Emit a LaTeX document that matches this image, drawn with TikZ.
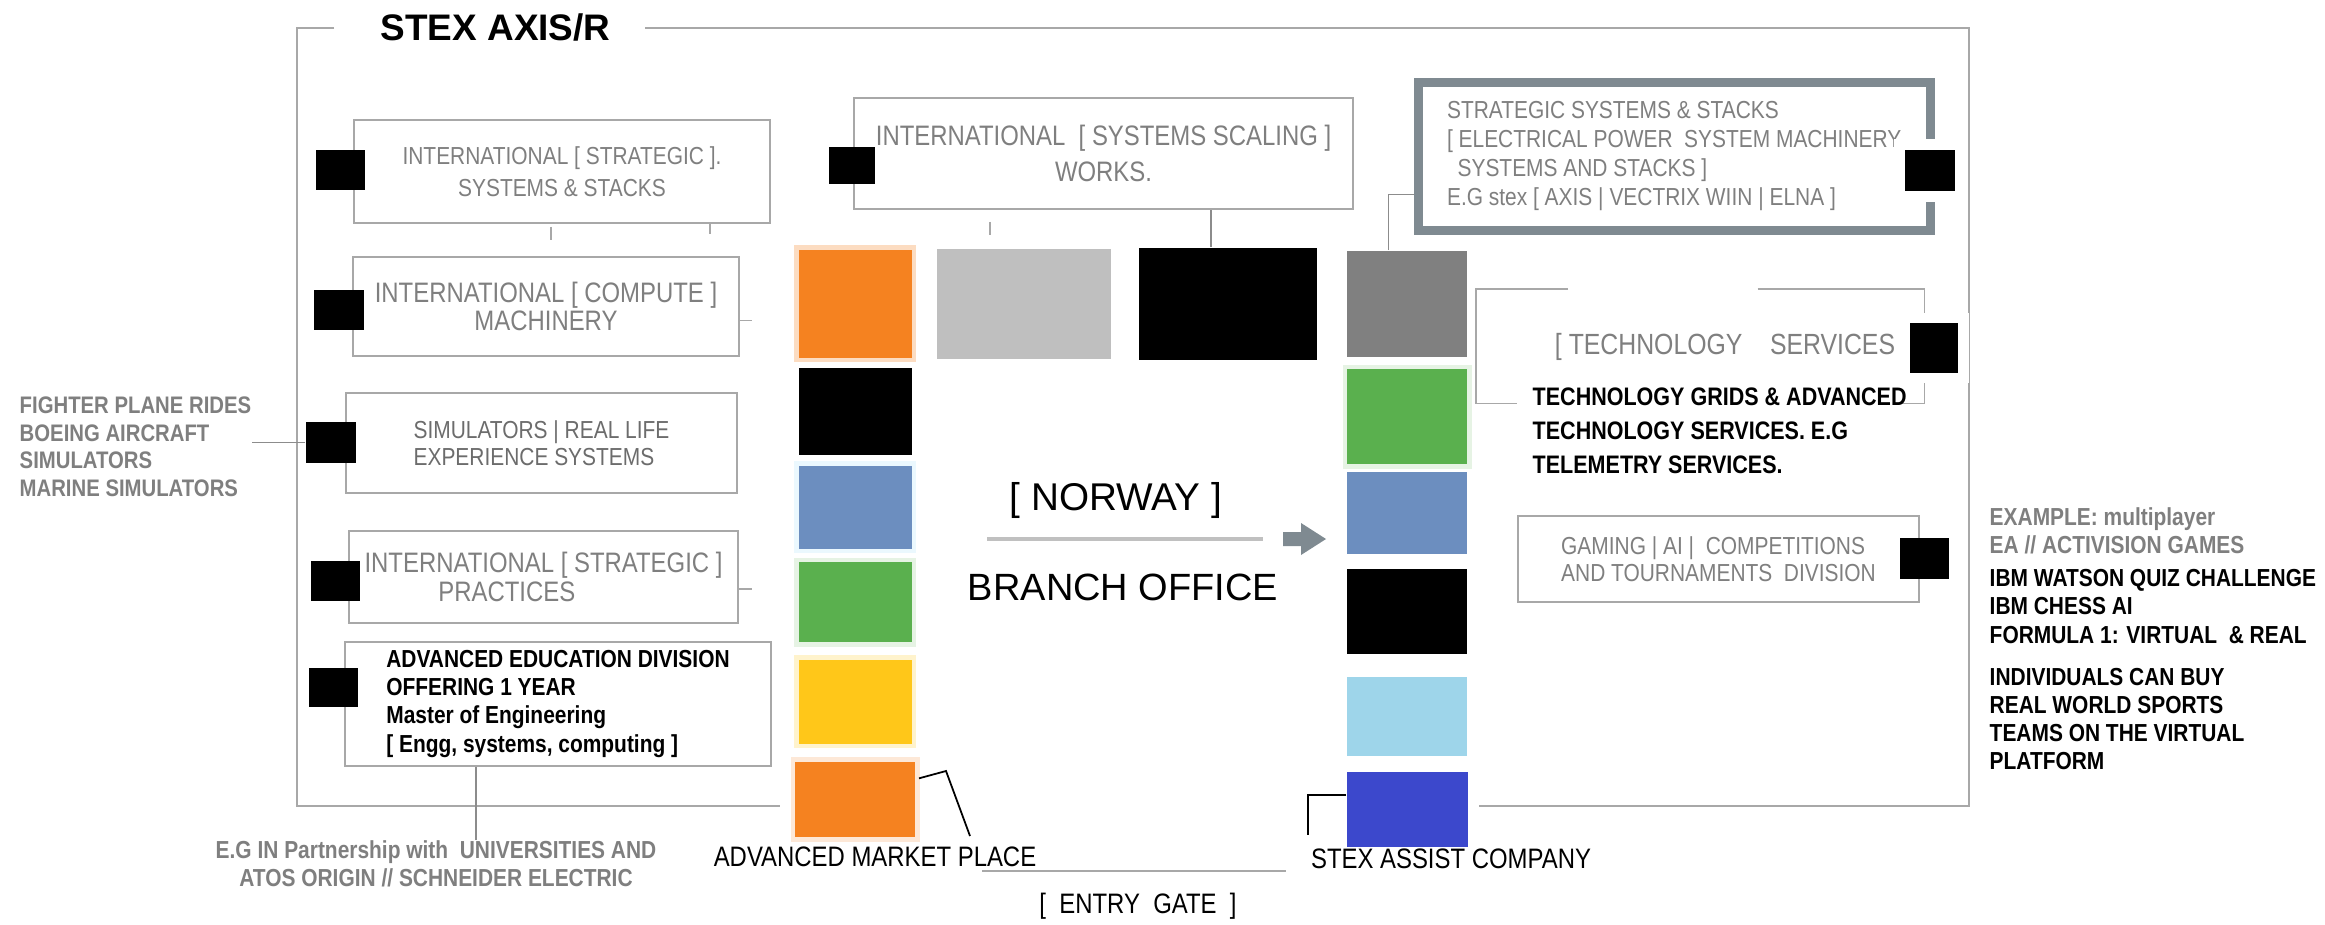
\documentclass[tikz,border=0pt]{standalone}
\usepackage{fontspec}
\setmainfont{Liberation Sans}
\newfontfamily\narrowfont[FakeStretch=0.85]{Liberation Sans}
\usepackage{tikz}
\usetikzlibrary{positioning,calc}

\definecolor{tileorange}{HTML}{F58220}
\definecolor{tilegray}{HTML}{808080}
\definecolor{tilelight}{HTML}{BFBFBF}
\definecolor{tilegreen}{HTML}{5AB04E}
\definecolor{tileblue}{HTML}{6C8EBF}
\definecolor{tileyellow}{HTML}{FFC719}
\definecolor{tilesky}{HTML}{9ED5EA}
\definecolor{tileroyal}{HTML}{3C48CC}
\definecolor{txtgray}{HTML}{7F7F7F}
\definecolor{linegray}{HTML}{A8A8A8}
\definecolor{conngray}{HTML}{8C8C8C}
\definecolor{slate}{HTML}{7F8A91}
\definecolor{bargray}{HTML}{C0C0C0}

\begin{document}
\begin{tikzpicture}[x=0.01cm,y=-0.01cm,
	outline/.style={draw=linegray,line width=0.45pt},
	box/.style={draw=linegray,line width=0.5pt,anchor=north west,inner sep=0pt,text=txtgray,align=center},
	marker/.style={fill=black,inner sep=0pt,minimum width=0.49cm,minimum height=0.40cm},
	cutout/.style={preaction={draw=white,line width=6pt}},
	tile/.style={fill=#1,inner sep=0pt,minimum width=1.13cm},
	glow/.style={preaction={draw=#1,line width=2.6pt}},
	conn/.style={draw=conngray,line width=0.45pt},
	link/.style={draw=black,line width=0.5pt},
	stub/.style={draw=linegray,line width=0.4pt}]

	\fill[white] (0,0) rectangle (2325,924);
	\useasboundingbox (0,0) rectangle (2325,924);

	\node[anchor=west,inner sep=0pt,font=\bfseries\fontsize{10.5}{12}\selectfont] (title) at (380,27) {STEX AXIS/R};
	\draw[outline] (334,28) -| (297,806) -- (780,806);
	\draw[outline] (645,28) -| (1969,806) -- (1479,806);

	% colour tiles
	\node[tile=tileorange,glow=tileorange!28,minimum height=1.08cm,anchor=north west] (L1) at (798,249) {};
	\node[tile=black,minimum height=0.87cm,below=0.09cm of L1] (L2) {};
	\node[tile=tileblue,glow=cyan!8,minimum height=0.83cm,below=0.09cm of L2] (L3) {};
	\node[tile=tilegreen,glow=tilegreen!15,minimum height=0.80cm,below=0.12cm of L3] (L4) {};
	\node[tile=tileyellow,glow=tileyellow!22,minimum height=0.84cm,below=0.16cm of L4] (L5) {};
	\node[tile=tileorange,glow=tileorange!18,minimum width=1.20cm,minimum height=0.75cm,below=0.17cm of L5] (L6) {};
	\node[tile=tilelight,minimum width=1.74cm,minimum height=1.10cm,right=0.24cm of L1] (T1) {};
	\node[tile=black,minimum width=1.78cm,minimum height=1.12cm,right=0.26cm of T1] (T2) {};
	\node[tile=tilegray,minimum width=1.20cm,minimum height=1.06cm,right=0.29cm of T2] (R1) {};
	\node[tile=tilegreen,glow=tilegreen!15,minimum width=1.20cm,minimum height=0.95cm,below=0.11cm of R1] (R2) {};
	\node[tile=tileblue,minimum width=1.20cm,minimum height=0.82cm,below=0.06cm of R2] (R3) {};
	\node[tile=black,minimum width=1.20cm,minimum height=0.85cm,below=0.14cm of R3] (R4) {};
	\node[tile=tilesky,minimum width=1.20cm,minimum height=0.79cm,below=0.21cm of R4] (R5) {};
	\node[tile=tileroyal,minimum width=1.21cm,minimum height=0.75cm,below=0.15cm of R5] (R6) {};

	% boxes
	\node[box,minimum width=4.16cm,minimum height=1.03cm,font=\narrowfont\fontsize{7}{9.1}\selectfont] (B1) at (353,119)
		{INTERNATIONAL [ STRATEGIC ].\\SYSTEMS \& STACKS};
	\node[box,minimum width=3.86cm,minimum height=0.99cm,font=\narrowfont\fontsize{8}{8}\selectfont] (B2) at (352,256)
		{INTERNATIONAL [ COMPUTE ]\\MACHINERY};
	\node[box,minimum width=3.91cm,minimum height=1.00cm,align=left,text=txtgray!85!black,font=\narrowfont\fontsize{7}{7.7}\selectfont] (B3) at (345,392)
		{SIMULATORS | REAL LIFE\\EXPERIENCE SYSTEMS};
	\node[box,minimum width=3.89cm,minimum height=0.92cm,align=left,font=\narrowfont\fontsize{8}{8.5}\selectfont] (B4) at (348,530)
		{INTERNATIONAL [ STRATEGIC ]\\\hspace*{21pt}PRACTICES};
	\node[box,minimum width=4.26cm,minimum height=1.24cm,align=left,text=black,font=\narrowfont\bfseries\fontsize{7}{8}\selectfont] (B5) at (344,641)
		{ADVANCED EDUCATION DIVISION\\OFFERING 1 YEAR\\Master of Engineering\\{[} Engg, systems, computing ]};
	\node[box,minimum width=4.99cm,minimum height=1.11cm,font=\narrowfont\fontsize{8}{10.2}\selectfont] (B6) at (853,97)
		{INTERNATIONAL\ \ [ SYSTEMS SCALING ]\\WORKS.};
	\node[box,draw=slate,line width=2.56pt,minimum width=5.12cm,minimum height=1.48cm,align=left,font=\narrowfont\fontsize{7}{8.2}\selectfont] (S) at (1413.5,77.5)
		{STRATEGIC SYSTEMS \& STACKS\\{[} ELECTRICAL POWER\ \ SYSTEM MACHINERY\\\hspace*{3pt}SYSTEMS AND STACKS ]\\E.G stex [ AXIS | VECTRIX WIIN | ELNA ]};
	\node[inner sep=0pt,minimum width=4.47cm,minimum height=1.13cm,anchor=north west] (TS) at (1476,289) {};
	\node[box,minimum width=4.01cm,minimum height=0.86cm,align=left,font=\narrowfont\fontsize{7}{7.7}\selectfont] (G) at (1517,515)
		{GAMING | AI |\ \ COMPETITIONS\\AND TOURNAMENTS\ \ DIVISION};

	\draw[outline] ($(TS.north west)+(92,0)$) -- (TS.north west) -- (TS.south west) -- ++(41,0);
	\draw[outline] ($(TS.north east)+(-167,0)$) -- (TS.north east) -- (TS.south east) -- ++(-24,0);

	% black markers
	\node[marker] (m1) at (340.5,170) {};
	\node[marker,minimum width=0.50cm] (m2) at (339,310) {};
	\node[marker,minimum width=0.50cm,minimum height=0.41cm] (m3) at (331,442.5) {};
	\node[marker] (m4) at (335.5,581) {};
	\node[marker,minimum height=0.39cm] (m5) at (333.5,687.5) {};
	\node[marker,minimum width=0.46cm,minimum height=0.36cm] (m6) at (852,165.5) {};
	\node[marker,cutout,minimum width=0.50cm,minimum height=0.41cm] (m7) at (1930,170.5) {};
	\node[marker,cutout,minimum width=0.48cm,minimum height=0.49cm] (m8) at (1934,348) {};
	\node[marker,minimum height=0.41cm] (m9) at (1924.5,558.5) {};

	% labels
	\node[text=txtgray,font=\narrowfont\fontsize{8.3}{9}\selectfont,inner sep=0pt] (TStitle) at (1725,347) {[ TECHNOLOGY\ \ \ \ SERVICES};
	\node[anchor=north west,align=left,inner sep=0pt,font=\narrowfont\bfseries\fontsize{7.2}{9.7}\selectfont] (TSdesc) at (1532,387)
		{TECHNOLOGY GRIDS \& ADVANCED\\TECHNOLOGY SERVICES. E.G\\TELEMETRY SERVICES.};
	\node[anchor=north west,align=left,inner sep=0pt,font=\narrowfont\bfseries\fontsize{7}{8}\selectfont] (ex) at (1989,507)
		{\textcolor{txtgray}{EXAMPLE: multiplayer}\\\textcolor{txtgray}{EA // ACTIVISION GAMES}\\[1.4pt]IBM WATSON QUIZ CHALLENGE\\IBM CHESS AI\\FORMULA 1: VIRTUAL\ \ \& REAL\\[4pt]INDIVIDUALS CAN BUY\\REAL WORLD SPORTS\\TEAMS ON THE VIRTUAL\\PLATFORM};
	\node[anchor=north west,align=left,inner sep=0pt,text=txtgray,font=\narrowfont\bfseries\fontsize{6.8}{7.9}\selectfont] (fly) at (19,396)
		{FIGHTER PLANE RIDES\\BOEING AIRCRAFT\\SIMULATORS\\MARINE SIMULATORS};
	\node[anchor=north,align=center,inner sep=0pt,text=txtgray,font=\narrowfont\bfseries\fontsize{7}{8}\selectfont] (eg) at (436,840)
		{E.G IN Partnership with\ \ UNIVERSITIES AND\\ATOS ORIGIN // SCHNEIDER ELECTRIC};
	\node[inner sep=0pt,font=\narrowfont\fontsize{8}{9}\selectfont] (mkt) at (875,857) {ADVANCED MARKET PLACE};
	\node[inner sep=0pt,font=\narrowfont\fontsize{8}{9}\selectfont] (assist) at (1451,859) {STEX ASSIST COMPANY};
	\node[inner sep=0pt,font=\narrowfont\fontsize{8}{9}\selectfont] (gate) at (1138,906) {[\ \ ENTRY\ \ GATE\ \ ]};
	\node[inner sep=0pt,font=\fontsize{11}{13}\selectfont] (norway) at (1116,500) {[ NORWAY ]};
	\node[inner sep=0pt,font=\fontsize{10.8}{13}\selectfont] (branch) at (1123,587) {BRANCH OFFICE};

	% connectors
	\coordinate (arr) at (1304,539);
	\coordinate (barL) at (987,539);
	\coordinate (k1) at ($(T2.north)+(-17,0)$);
	\coordinate (k2) at ($(R1.north west)+(42,0)$);
	\coordinate (egtop) at ($(B5.south west)+(132,0)$);
	\coordinate (mk1) at (946,771);
	\coordinate (mk2) at (970,836);
	\coordinate (as1) at (1308,835);

	\fill[slate] (arr) ++(-21,-7) -- ++(18,0) -- ++(0,-9) -- ++(25,16) -- ++(-25,16) -- ++(0,-9) -- ++(-18,0) -- cycle;
	\draw[draw=bargray,line width=1.4pt] (barL) -- ($(arr)+(-41,0)$);
	\draw[conn] (k1) -- (k1 |- B6.south);
	\draw[conn] (k2) |- ($(S.south west)+(0,-40)$);
	\draw[conn] (m3.west) -- (m3.west -| fly.east);
	\draw[conn] (egtop) -- (egtop |- eg.north);
	\draw[link] ($(L6.north east)+(3,17)$) -- (mk1) -- (mk2);
	\draw[link] ($(R6.north west)+(0,24)$) -| (as1);
	\draw[outline] ($(gate.north)+(-156,-21)$) -- ++(304,0);

	\draw[stub] ($(B1.south west)+(198,3)$) -- ++(0,13);
	\draw[stub] ($(B1.south west)+(357,0)$) -- ++(0,10);
	\draw[stub] ($(B6.south west)+(137,12)$) -- ++(0,13);
	\draw[stub] ($(B2.east)+(0,14)$) -- ++(12,0);
	\draw[stub] ($(B4.east)+(0,12)$) -- ++(13,0);
\end{tikzpicture}
\end{document}
